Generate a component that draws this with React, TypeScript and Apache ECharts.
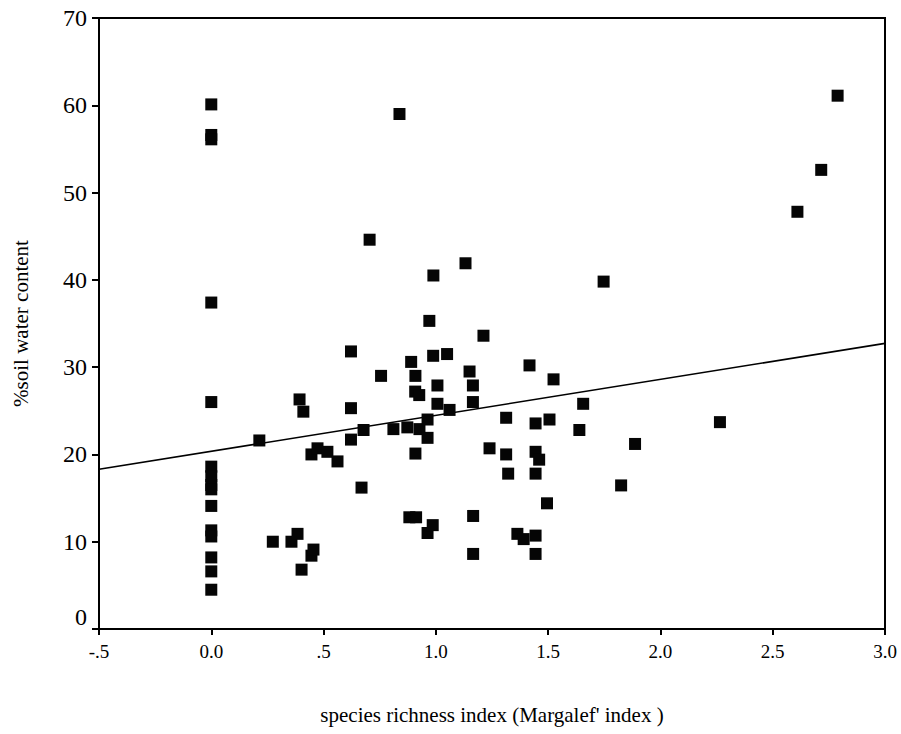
import React, { useEffect, useRef } from "react";
import * as echarts from "echarts";

// Species richness (Margalef index) of each plot
const richness: number[] = [
  0, 0, 0, 0, 0, 0, 0, 0, 0, 0, 0, 0, 0, 0, 0,
  0.214, 0.274, 0.357, 0.384, 0.393, 0.402, 0.41, 0.446, 0.455, 0.446,
  0.473, 0.517, 0.562, 0.622, 0.622, 0.622, 0.669, 0.678, 0.705, 0.756,
  0.811, 0.838, 0.873, 0.882, 0.89, 0.909, 0.908, 0.926, 0.909, 0.912,
  0.927, 0.963, 0.963, 0.963, 0.971, 0.986, 0.988, 0.989, 1.007, 1.007,
  1.05, 1.061, 1.132, 1.15, 1.165, 1.165, 1.166, 1.166, 1.212, 1.239,
  1.313, 1.313, 1.322, 1.363, 1.391, 1.417, 1.444, 1.444, 1.46, 1.444,
  1.444, 1.444, 1.495, 1.506, 1.524, 1.639, 1.656, 1.747, 1.825, 1.887,
  2.265, 2.61, 2.716, 2.789,
];

// Soil water content (%) of the same plots
const waterContent: number[] = [
  60.1, 56.6, 56.1, 37.4, 26.0, 18.6, 17.5, 16.5, 16.0, 14.1, 11.3, 10.6, 8.2, 6.6, 4.5,
  21.6, 10.0, 10.0, 10.9, 26.3, 6.8, 24.9, 8.4, 9.1, 20.0,
  20.7, 20.3, 19.2, 31.8, 25.3, 21.7, 16.2, 22.8, 44.6, 29.0,
  22.9, 59.0, 23.1, 12.8, 30.6, 29.0, 27.2, 26.8, 20.1, 12.8,
  22.9, 24.0, 21.9, 11.0, 35.3, 11.9, 31.3, 40.5, 27.9, 25.8,
  31.5, 25.1, 41.9, 29.5, 27.9, 26.0, 12.95, 8.6, 33.6, 20.7,
  24.2, 20.0, 17.8, 10.9, 10.3, 30.2, 23.55, 20.3, 19.4, 17.8,
  10.7, 8.6, 14.4, 24.0, 28.6, 22.8, 25.8, 39.8, 16.45, 21.2,
  23.7, 47.8, 52.6, 61.1,
];

// Least-squares fit: water = intercept + slope * richness
const fitIntercept = 20.36;
const fitSlope = 4.12;
const fitRange: number[] = [-0.5, 3.0];

const xTickLabels: Record<string, string> = {
  "-0.5": "-.5",
  "0": "0.0",
  "0.5": ".5",
  "1": "1.0",
  "1.5": "1.5",
  "2": "2.0",
  "2.5": "2.5",
  "3": "3.0",
};

const serif = "Liberation Serif";

export default function App() {
  const ref = useRef<HTMLDivElement>(null);

  useEffect(() => {
    if (!ref.current) return;
    const chart = echarts.init(ref.current, undefined, { renderer: "svg" });

    const points = richness.map((x, i) => [x, waterContent[i]]);
    const fitLine = fitRange.map((x) => [x, fitIntercept + fitSlope * x]);

    chart.setOption({
      animation: false,
      backgroundColor: "#ffffff",
      textStyle: { fontFamily: serif, color: "#000" },
      grid: {
        left: 99,
        right: 16,
        top: 18,
        bottom: 105,
        show: true,
        borderColor: "#000",
        borderWidth: 2,
        backgroundColor: "transparent",
      },
      xAxis: {
        type: "value",
        min: -0.5,
        max: 3,
        interval: 0.5,
        name: "species richness index (Margalef' index )",
        nameLocation: "middle",
        nameGap: 75,
        nameTextStyle: { fontFamily: serif, fontSize: 21, color: "#000" },
        axisLine: { onZero: false, lineStyle: { color: "#000", width: 2 } },
        axisTick: { length: 6, lineStyle: { color: "#000", width: 2 } },
        splitLine: { show: false },
        axisLabel: {
          fontFamily: serif,
          fontSize: 19,
          color: "#000",
          margin: 13,
          formatter: (v: number) => xTickLabels[String(v)] ?? String(v),
        },
      },
      yAxis: {
        type: "value",
        min: 0,
        max: 70,
        interval: 10,
        name: "%soil water content",
        nameLocation: "middle",
        nameGap: 68,
        nameTextStyle: { fontFamily: serif, fontSize: 21, color: "#000" },
        axisLine: { onZero: false, lineStyle: { color: "#000", width: 2 } },
        axisTick: { length: 7, lineStyle: { color: "#000", width: 2 } },
        splitLine: { show: false },
        axisLabel: {
          fontFamily: serif,
          fontSize: 24,
          color: "#000",
          margin: 12,
          formatter: (v: number) => (v === 0 ? "{zero|0}" : String(v)),
          rich: {
            zero: {
              fontFamily: serif,
              fontSize: 24,
              color: "#000",
              padding: [0, 0, 24, 0],
            },
          },
        },
      },
      series: [
        {
          type: "line",
          data: fitLine,
          symbol: "none",
          lineStyle: { color: "#000", width: 1.6 },
          z: 2,
        },
        {
          type: "scatter",
          data: points,
          symbol: "rect",
          symbolSize: 12,
          itemStyle: { color: "#050505", opacity: 1 },
          z: 3,
        },
      ],
    });

    return () => chart.dispose();
  }, []);

  return (
    <div
      ref={ref}
      style={{ position: "fixed", left: 0, top: 0, width: 901, height: 734 }}
    />
  );
}
